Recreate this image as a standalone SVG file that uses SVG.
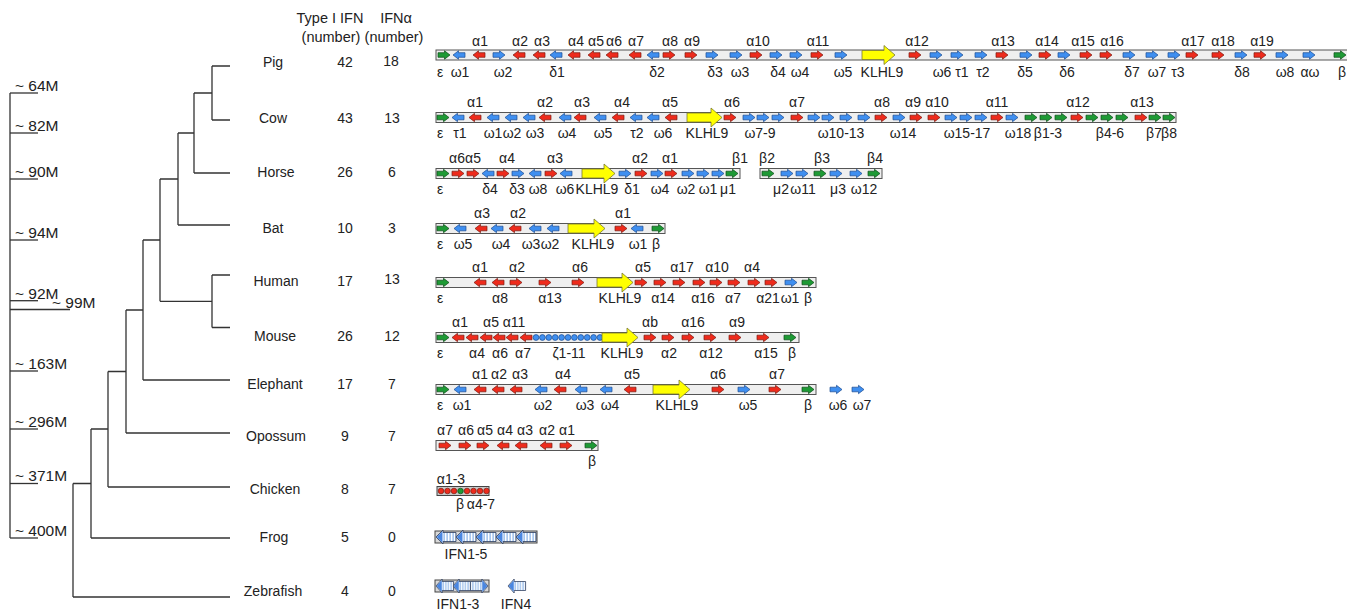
<svg xmlns="http://www.w3.org/2000/svg" width="1347" height="615" viewBox="0 0 1347 615">
<style>
text{font-family:"Liberation Sans",Arial,sans-serif;fill:#222}
.sp{font-size:14px;text-anchor:middle}
.hd{font-size:14.5px;text-anchor:middle}
.tm{font-size:15.5px}
.gl text{font-size:14px;text-anchor:middle}
.bar{fill:#efefef;stroke:#555;stroke-width:1}
.r{fill:#ee2b1c;stroke:#7a1a10;stroke-width:.7}
.b{fill:#3f8ff0;stroke:#1b4a8f;stroke-width:.7}
.g{fill:#1e9a35;stroke:#0c4a17;stroke-width:.7}
.y{fill:#ffff00;stroke:#7a7a30;stroke-width:.8}
.ln{stroke:#333;stroke-width:1.3;fill:none}
</style>
<defs>
<path id="R" d="M-6,-2.3H0.5V-4.2L6,0L0.5,4.2V2.3H-6Z"/>
<path id="L" d="M6,-2.3H-0.5V-4.2L-6,0L-0.5,4.2V2.3H6Z"/>
<pattern id="str" width="3" height="12" patternUnits="userSpaceOnUse"><rect width="3" height="12" fill="#a9c7ee"/><rect width="1.3" height="12" fill="#fff"/></pattern>
<g id="FA"><path d="M0,0L7,-7V-4.5H20V4.5H7V7Z" fill="url(#str)" stroke="#2a3a5a" stroke-width=".8"/><path d="M0.8,0L6.5,-5.8V5.8Z" fill="#4a86e0"/></g>
</defs>

<g id="header">
<text class="hd" x="330" y="23">Type I IFN</text>
<text class="hd" x="331" y="42">(number)</text>
<text class="hd" x="396" y="23">IFNα</text>
<text class="hd" x="394" y="42">(number)</text>
</g>

<g id="timescale" class="ln">
<line x1="10" y1="93" x2="10" y2="538"/>
<line x1="10" y1="93" x2="38" y2="93"/>
<line x1="10" y1="133" x2="38" y2="133"/>
<line x1="10" y1="179" x2="38" y2="179"/>
<line x1="10" y1="240" x2="38" y2="240"/>
<line x1="10" y1="300.7" x2="38" y2="300.7"/>
<line x1="10" y1="309.5" x2="70" y2="309.5"/>
<line x1="10" y1="371" x2="38" y2="371"/>
<line x1="10" y1="429" x2="38" y2="429"/>
<line x1="10" y1="483.5" x2="38" y2="483.5"/>
<line x1="10" y1="538" x2="38" y2="538"/>
</g>
<g id="timelabels" class="tm">
<text x="15" y="90.5">~ 64M</text>
<text x="15" y="130.5">~ 82M</text>
<text x="15" y="176.5">~ 90M</text>
<text x="15" y="237.5">~ 94M</text>
<text x="15" y="298.5">~ 92M</text>
<text x="52" y="307.5">~ 99M</text>
<text x="15" y="368.5">~ 163M</text>
<text x="15" y="426.5">~ 296M</text>
<text x="15" y="481">~ 371M</text>
<text x="15" y="535.5">~ 400M</text>
</g>

<g id="tree" class="ln">
<path d="M212,66H230M212,120H230M212,66V120"/>
<path d="M194,93H212M194,173H230M194,93V173"/>
<path d="M178,133H194M178,225H230M178,133V225"/>
<path d="M212,275H230M212,327.5H230M212,275V327.5"/>
<path d="M160,179H178M160,301.3H212M160,179V301.3"/>
<path d="M143,240H160M143,380H230M143,240V380"/>
<path d="M126,310H143M126,433H230M126,310V433"/>
<path d="M108,371.5H126M108,487H230M108,371.5V487"/>
<path d="M91,429H108M91,538H230M91,429V538"/>
<path d="M73,483.5H91M73,597H230M73,483.5V597"/>
</g>

<g id="species" class="sp">
<text x="273" y="66.5">Pig</text>
<text x="273" y="123">Cow</text>
<text x="276" y="177">Horse</text>
<text x="273" y="233">Bat</text>
<text x="276" y="286">Human</text>
<text x="275" y="341">Mouse</text>
<text x="275" y="389">Elephant</text>
<text x="276" y="441">Opossum</text>
<text x="275" y="494">Chicken</text>
<text x="274" y="542">Frog</text>
<text x="273" y="596">Zebrafish</text>
</g>
<g id="counts" class="sp">
<text x="345" y="66.5">42</text><text x="391" y="65.5">18</text>
<text x="345" y="123">43</text><text x="392" y="123">13</text>
<text x="345" y="177">26</text><text x="392" y="177">6</text>
<text x="345" y="233">10</text><text x="392" y="233">3</text>
<text x="345" y="286">17</text><text x="392" y="284">13</text>
<text x="345" y="341">26</text><text x="392" y="341">12</text>
<text x="345" y="389">17</text><text x="392" y="389">7</text>
<text x="345" y="441">9</text><text x="392" y="441">7</text>
<text x="345" y="494">8</text><text x="392" y="494">7</text>
<text x="345" y="542">5</text><text x="392" y="542">0</text>
<text x="345" y="596">4</text><text x="392" y="596">0</text>
</g>

<g id="pig" class="gl">
<rect class="bar" x="436" y="50" width="912" height="10"/>
<use href="#R" class="g" x="444" y="55"/><use href="#L" class="b" x="459" y="55"/><use href="#L" class="r" x="479" y="55"/><use href="#R" class="b" x="499" y="55"/><use href="#L" class="r" x="519" y="55"/><use href="#L" class="r" x="539" y="55"/><use href="#L" class="b" x="556" y="55"/><use href="#L" class="r" x="574" y="55"/><use href="#L" class="r" x="594" y="55"/><use href="#L" class="r" x="612" y="55"/><use href="#L" class="r" x="635" y="55"/><use href="#L" class="b" x="653" y="55"/><use href="#R" class="r" x="669" y="55"/><use href="#R" class="r" x="691" y="55"/><use href="#R" class="b" x="712" y="55"/><use href="#R" class="b" x="736" y="55"/><use href="#R" class="r" x="756" y="55"/><use href="#R" class="b" x="776" y="55"/><use href="#R" class="b" x="796" y="55"/><use href="#R" class="r" x="817" y="55"/><use href="#R" class="b" x="841" y="55"/>
<path class="y" d="M862,50.5H884V45.5L895,55L884,64.5V59.5H862Z"/>
<use href="#R" class="r" x="915" y="55"/><use href="#R" class="b" x="936" y="55"/><use href="#R" class="b" x="957" y="55"/><use href="#R" class="b" x="981" y="55"/><use href="#R" class="r" x="1002" y="55"/><use href="#R" class="b" x="1026" y="55"/><use href="#R" class="r" x="1045" y="55"/><use href="#R" class="b" x="1064" y="55"/><use href="#R" class="r" x="1086" y="55"/><use href="#R" class="r" x="1106" y="55"/><use href="#R" class="b" x="1129" y="55"/><use href="#R" class="b" x="1152" y="55"/><use href="#R" class="b" x="1174" y="55"/><use href="#R" class="r" x="1192" y="55"/><use href="#R" class="r" x="1218" y="55"/><use href="#R" class="b" x="1241" y="55"/><use href="#R" class="r" x="1260" y="55"/><use href="#R" class="b" x="1282" y="55"/><use href="#R" class="b" x="1309" y="55"/><use href="#R" class="g" x="1340" y="55"/>
<text x="480" y="46">α1</text><text x="520" y="46">α2</text><text x="542" y="46">α3</text><text x="576" y="46">α4</text><text x="596" y="46">α5</text><text x="614" y="46">α6</text><text x="636" y="46">α7</text><text x="670" y="46">α8</text><text x="692" y="46">α9</text><text x="758" y="46">α10</text><text x="818" y="46">α11</text><text x="917" y="46">α12</text><text x="1003" y="46">α13</text><text x="1047" y="46">α14</text><text x="1083" y="46">α15</text><text x="1112" y="46">α16</text><text x="1193" y="46">α17</text><text x="1223" y="46">α18</text><text x="1262" y="46">α19</text>
<text x="440" y="77">ε</text><text x="460" y="77">ω1</text><text x="503" y="77">ω2</text><text x="557" y="77">δ1</text><text x="657" y="77">δ2</text><text x="715" y="77">δ3</text><text x="740" y="77">ω3</text><text x="778" y="77">δ4</text><text x="800" y="77">ω4</text><text x="843" y="77">ω5</text><text x="882" y="77">KLHL9</text><text x="942" y="77">ω6</text><text x="962" y="77">τ1</text><text x="983" y="77">τ2</text><text x="1025" y="77">δ5</text><text x="1067" y="77">δ6</text><text x="1132" y="77">δ7</text><text x="1157" y="77">ω7</text><text x="1178" y="77">τ3</text><text x="1242" y="77">δ8</text><text x="1285" y="77">ω8</text><text x="1310" y="77">αω</text><text x="1342" y="77">β</text>
</g>

<g id="cow" class="gl">
<rect class="bar" x="436" y="112.5" width="740" height="10"/>
<use href="#R" class="g" x="443" y="117.5"/><use href="#L" class="b" x="458" y="117.5"/><use href="#L" class="r" x="475" y="117.5"/><use href="#L" class="b" x="493" y="117.5"/><use href="#L" class="b" x="511" y="117.5"/><use href="#L" class="b" x="529" y="117.5"/><use href="#L" class="r" x="545" y="117.5"/><use href="#L" class="b" x="565" y="117.5"/><use href="#L" class="r" x="580" y="117.5"/><use href="#L" class="b" x="600" y="117.5"/><use href="#L" class="r" x="618" y="117.5"/><use href="#L" class="b" x="636" y="117.5"/><use href="#L" class="b" x="653" y="117.5"/><use href="#L" class="r" x="671" y="117.5"/>
<path class="y" d="M687,113H711V108L722,117.5L711,127V122H687Z"/>
<use href="#R" class="r" x="730" y="117.5"/><use href="#R" class="b" x="749" y="117.5"/><use href="#R" class="b" x="763" y="117.5"/><use href="#R" class="b" x="778" y="117.5"/><use href="#R" class="r" x="797" y="117.5"/><use href="#R" class="b" x="814" y="117.5"/><use href="#R" class="b" x="828" y="117.5"/><use href="#R" class="b" x="846" y="117.5"/><use href="#R" class="b" x="864" y="117.5"/><use href="#R" class="r" x="881" y="117.5"/><use href="#R" class="b" x="899" y="117.5"/><use href="#R" class="r" x="916" y="117.5"/><use href="#R" class="r" x="934" y="117.5"/><use href="#R" class="b" x="951" y="117.5"/><use href="#R" class="b" x="966" y="117.5"/><use href="#R" class="b" x="981" y="117.5"/><use href="#R" class="r" x="997" y="117.5"/><use href="#R" class="b" x="1012" y="117.5"/><use href="#R" class="g" x="1031" y="117.5"/><use href="#R" class="g" x="1046" y="117.5"/><use href="#R" class="g" x="1061" y="117.5"/><use href="#R" class="r" x="1077" y="117.5"/><use href="#R" class="g" x="1092" y="117.5"/><use href="#R" class="g" x="1107" y="117.5"/><use href="#R" class="g" x="1122" y="117.5"/><use href="#R" class="r" x="1141" y="117.5"/><use href="#R" class="g" x="1155" y="117.5"/><use href="#R" class="g" x="1169" y="117.5"/>
<text x="475" y="107">α1</text><text x="545" y="107">α2</text><text x="582" y="107">α3</text><text x="622" y="107">α4</text><text x="670" y="107">α5</text><text x="732" y="107">α6</text><text x="797" y="107">α7</text><text x="882" y="107">α8</text><text x="913" y="107">α9</text><text x="937" y="107">α10</text><text x="997" y="107">α11</text><text x="1078" y="107">α12</text><text x="1142" y="107">α13</text>
<text x="440" y="138">ε</text><text x="460" y="138">τ1</text><text x="493" y="138">ω1</text><text x="512" y="138">ω2</text><text x="535" y="138">ω3</text><text x="567" y="138">ω4</text><text x="603" y="138">ω5</text><text x="637" y="138">τ2</text><text x="663" y="138">ω6</text><text x="707" y="138">KLHL9</text><text x="760" y="138">ω7-9</text><text x="841" y="138">ω10-13</text><text x="903" y="138">ω14</text><text x="967" y="138">ω15-17</text><text x="1018" y="138">ω18</text><text x="1048" y="138">β1-3</text><text x="1110" y="138">β4-6</text><text x="1154" y="138">β7</text><text x="1169" y="138">β8</text>
</g>

<g id="horse" class="gl">
<rect class="bar" x="436" y="168.5" width="304" height="10"/>
<use href="#R" class="g" x="443" y="173.5"/><use href="#R" class="r" x="458" y="173.5"/><use href="#R" class="r" x="473" y="173.5"/><use href="#L" class="b" x="488" y="173.5"/><use href="#R" class="r" x="503" y="173.5"/><use href="#R" class="b" x="518" y="173.5"/><use href="#L" class="b" x="535" y="173.5"/><use href="#R" class="r" x="551" y="173.5"/><use href="#L" class="b" x="566" y="173.5"/>
<path class="y" d="M582,169H604V164L615,173.5L604,183V178H582Z"/>
<use href="#R" class="b" x="625" y="173.5"/><use href="#R" class="r" x="641" y="173.5"/><use href="#R" class="b" x="657" y="173.5"/><use href="#R" class="r" x="671" y="173.5"/><use href="#R" class="b" x="688" y="173.5"/><use href="#R" class="b" x="703" y="173.5"/><use href="#R" class="b" x="718" y="173.5"/><use href="#R" class="g" x="732" y="173.5"/>
<rect class="bar" x="760" y="168.5" width="122" height="10"/>
<use href="#R" class="g" x="768" y="173.5"/><use href="#R" class="b" x="787" y="173.5"/><use href="#R" class="b" x="802" y="173.5"/><use href="#R" class="g" x="820" y="173.5"/><use href="#R" class="b" x="836" y="173.5"/><use href="#R" class="b" x="856" y="173.5"/><use href="#R" class="g" x="874" y="173.5"/>
<text x="457" y="163">α6</text><text x="473" y="163">α5</text><text x="507" y="163">α4</text><text x="555" y="163">α3</text><text x="640" y="163">α2</text><text x="670" y="163">α1</text><text x="740" y="163">β1</text><text x="767" y="163">β2</text><text x="822" y="163">β3</text><text x="875" y="163">β4</text>
<text x="440" y="194">ε</text><text x="490" y="194">δ4</text><text x="517" y="194">δ3</text><text x="538" y="194">ω8</text><text x="565" y="194">ω6</text><text x="597" y="194">KLHL9</text><text x="632" y="194">δ1</text><text x="660" y="194">ω4</text><text x="686" y="194">ω2</text><text x="708" y="194">ω1</text><text x="728" y="194">μ1</text><text x="781" y="194">μ2</text><text x="803" y="194">ω11</text><text x="838" y="194">μ3</text><text x="864" y="194">ω12</text>
</g>

<g id="bat" class="gl">
<rect class="bar" x="436" y="223.5" width="229" height="10"/>
<use href="#R" class="g" x="443" y="228.5"/><use href="#L" class="b" x="460" y="228.5"/><use href="#L" class="r" x="481" y="228.5"/><use href="#L" class="b" x="497" y="228.5"/><use href="#L" class="r" x="515" y="228.5"/><use href="#L" class="b" x="535" y="228.5"/><use href="#L" class="b" x="553" y="228.5"/>
<path class="y" d="M568,224H594V219L605,228.5L594,238V233H568Z"/>
<use href="#R" class="r" x="621" y="228.5"/><use href="#L" class="b" x="637" y="228.5"/><use href="#R" class="g" x="658" y="228.5"/>
<text x="482" y="218">α3</text><text x="518" y="218">α2</text><text x="623" y="218">α1</text>
<text x="440" y="249">ε</text><text x="463" y="249">ω5</text><text x="501" y="249">ω4</text><text x="531" y="249">ω3</text><text x="550" y="249">ω2</text><text x="593" y="249">KLHL9</text><text x="638" y="249">ω1</text><text x="656" y="249">β</text>
</g>

<g id="human" class="gl">
<rect class="bar" x="436" y="277.5" width="380" height="10"/>
<use href="#R" class="g" x="443" y="282.5"/><use href="#L" class="r" x="480" y="282.5"/><use href="#L" class="r" x="498" y="282.5"/><use href="#R" class="r" x="516" y="282.5"/><use href="#R" class="r" x="545" y="282.5"/><use href="#R" class="r" x="578" y="282.5"/>
<path class="y" d="M597,278H622V273L633,282.5L622,292V287H597Z"/>
<use href="#R" class="r" x="641" y="282.5"/><use href="#R" class="r" x="660" y="282.5"/><use href="#R" class="r" x="679" y="282.5"/><use href="#R" class="r" x="699" y="282.5"/><use href="#R" class="r" x="716" y="282.5"/><use href="#R" class="r" x="734" y="282.5"/><use href="#R" class="r" x="754" y="282.5"/><use href="#R" class="r" x="771" y="282.5"/><use href="#R" class="b" x="791" y="282.5"/><use href="#R" class="g" x="808" y="282.5"/>
<text x="480" y="272">α1</text><text x="517" y="272">α2</text><text x="580" y="272">α6</text><text x="643" y="272">α5</text><text x="682" y="272">α17</text><text x="717" y="272">α10</text><text x="752" y="272">α4</text>
<text x="440" y="303">ε</text><text x="500" y="303">α8</text><text x="550" y="303">α13</text><text x="620" y="303">KLHL9</text><text x="663" y="303">α14</text><text x="703" y="303">α16</text><text x="733" y="303">α7</text><text x="768" y="303">α21</text><text x="790" y="303">ω1</text><text x="808" y="303">β</text>
</g>

<g id="mouse" class="gl">
<rect class="bar" x="436" y="332.5" width="363" height="10"/>
<use href="#R" class="g" x="443" y="337.5"/><use href="#L" class="r" x="458" y="337.5"/><use href="#L" class="r" x="472" y="337.5"/><use href="#L" class="r" x="486" y="337.5"/><use href="#L" class="r" x="499" y="337.5"/><use href="#L" class="r" x="512" y="337.5"/><use href="#L" class="r" x="526" y="337.5"/>
<g class="b"><circle cx="536" cy="337.5" r="2.9"/><circle cx="542.4" cy="337.5" r="2.9"/><circle cx="548.8" cy="337.5" r="2.9"/><circle cx="555.2" cy="337.5" r="2.9"/><circle cx="561.6" cy="337.5" r="2.9"/><circle cx="568" cy="337.5" r="2.9"/><circle cx="574.4" cy="337.5" r="2.9"/><circle cx="580.8" cy="337.5" r="2.9"/><circle cx="587.2" cy="337.5" r="2.9"/><circle cx="593.6" cy="337.5" r="2.9"/><circle cx="600" cy="337.5" r="2.9"/></g>
<path class="y" d="M602,333H627V328L638,337.5L627,347V342H602Z"/>
<use href="#R" class="r" x="650" y="337.5"/><use href="#R" class="r" x="668" y="337.5"/><use href="#R" class="r" x="688" y="337.5"/><use href="#R" class="r" x="710" y="337.5"/><use href="#R" class="r" x="735" y="337.5"/><use href="#R" class="r" x="763" y="337.5"/><use href="#R" class="g" x="790" y="337.5"/>
<text x="460" y="327">α1</text><text x="491" y="327">α5</text><text x="514" y="327">α11</text><text x="650" y="327">αb</text><text x="693" y="327">α16</text><text x="737" y="327">α9</text>
<text x="440" y="358">ε</text><text x="477" y="358">α4</text><text x="500" y="358">α6</text><text x="523" y="358">α7</text><text x="569" y="358">ζ1-11</text><text x="622" y="358">KLHL9</text><text x="669" y="358">α2</text><text x="711" y="358">α12</text><text x="766" y="358">α15</text><text x="792" y="358">β</text>
</g>

<g id="elephant" class="gl">
<rect class="bar" x="436" y="384.5" width="380" height="10"/>
<use href="#R" class="g" x="443" y="389.5"/><use href="#L" class="b" x="460" y="389.5"/><use href="#L" class="r" x="480" y="389.5"/><use href="#L" class="r" x="498" y="389.5"/><use href="#L" class="r" x="516" y="389.5"/><use href="#L" class="b" x="541" y="389.5"/><use href="#L" class="r" x="560" y="389.5"/><use href="#L" class="b" x="581" y="389.5"/><use href="#L" class="b" x="606" y="389.5"/><use href="#L" class="r" x="630" y="389.5"/>
<path class="y" d="M653,385H679V380L690,389.5L679,399V394H653Z"/>
<use href="#R" class="r" x="718" y="389.5"/><use href="#R" class="b" x="744" y="389.5"/><use href="#R" class="r" x="775" y="389.5"/><use href="#R" class="g" x="808" y="389.5"/>
<use href="#R" class="b" x="836" y="389.5"/><use href="#R" class="b" x="858" y="389.5"/>
<text x="480" y="379">α1</text><text x="499" y="379">α2</text><text x="520" y="379">α3</text><text x="563" y="379">α4</text><text x="632" y="379">α5</text><text x="718" y="379">α6</text><text x="777" y="379">α7</text>
<text x="440" y="410">ε</text><text x="462" y="410">ω1</text><text x="543" y="410">ω2</text><text x="585" y="410">ω3</text><text x="610" y="410">ω4</text><text x="677" y="410">KLHL9</text><text x="748" y="410">ω5</text><text x="808" y="410">β</text><text x="838" y="410">ω6</text><text x="862" y="410">ω7</text>
</g>

<g id="opossum" class="gl">
<rect class="bar" x="436" y="440.5" width="162" height="10"/>
<use href="#R" class="r" x="445" y="445.5"/><use href="#R" class="r" x="465" y="445.5"/><use href="#R" class="r" x="483" y="445.5"/><use href="#L" class="r" x="503" y="445.5"/><use href="#L" class="r" x="521" y="445.5"/><use href="#L" class="r" x="546" y="445.5"/><use href="#R" class="r" x="566" y="445.5"/><use href="#R" class="g" x="591" y="445.5"/>
<text x="445" y="435">α7</text><text x="466" y="435">α6</text><text x="485" y="435">α5</text><text x="505" y="435">α4</text><text x="525" y="435">α3</text><text x="547" y="435">α2</text><text x="567" y="435">α1</text>
<text x="592" y="466">β</text>
</g>

<g id="chicken" class="gl">
<rect x="437" y="486.5" width="52" height="9" fill="#c8c8c8" stroke="#444" stroke-width="1"/>
<g class="r"><circle cx="441" cy="491" r="2.8"/><circle cx="447.5" cy="491" r="2.8"/><circle cx="454" cy="491" r="2.8"/><circle cx="467" cy="491" r="2.8"/><circle cx="473.5" cy="491" r="2.8"/><circle cx="480" cy="491" r="2.8"/><circle cx="486.5" cy="491" r="2.8"/></g>
<circle class="g" cx="460.5" cy="491" r="2.8"/>
<text x="451" y="484">α1-3</text>
<text x="460" y="509">β</text><text x="481" y="509">α4-7</text>
</g>

<g id="frog" class="gl">
<rect x="435" y="531" width="102" height="12" fill="#d8d8d8" stroke="#444" stroke-width="1"/>
<use href="#FA" x="436" y="537"/><use href="#FA" x="456" y="537"/><use href="#FA" x="476" y="537"/><use href="#FA" x="496" y="537"/><use href="#FA" x="516" y="537"/>
<text x="466" y="559">IFN1-5</text>
</g>

<g id="zebrafish" class="gl">
<rect x="435" y="580" width="54" height="12" fill="#d8d8d8" stroke="#444" stroke-width="1"/>
<use href="#FA" transform="translate(436,586) scale(0.88,1)"/><use href="#FA" transform="translate(453,586) scale(0.88,1)"/><use href="#FA" transform="translate(488,586) scale(-0.88,1)"/>
<use href="#FA" transform="translate(508,586) scale(0.88,1)"/>
<text x="458" y="609">IFN1-3</text><text x="516" y="609">IFN4</text>
</g>
</svg>
